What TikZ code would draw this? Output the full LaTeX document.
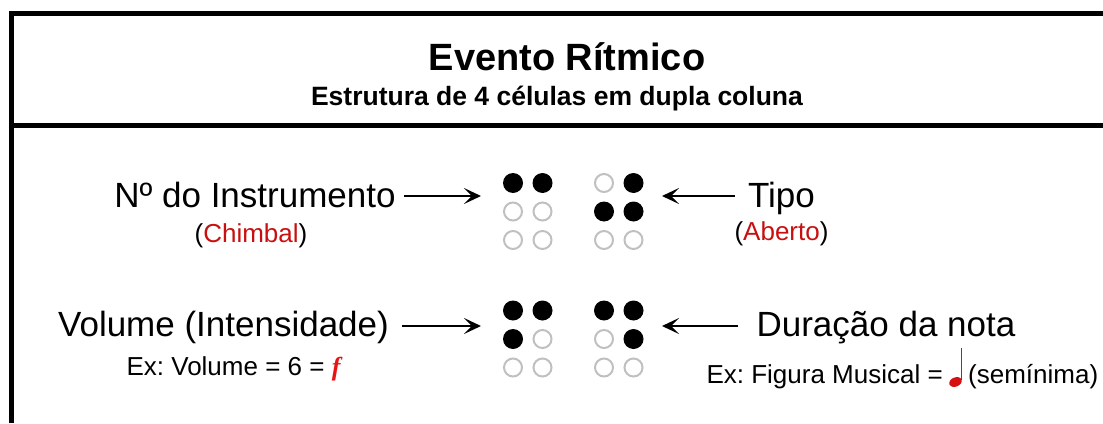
\documentclass[tikz,border=0pt]{standalone}
\usepackage{fontspec}
\setmainfont{Liberation Sans}
\newfontfamily\dynfont{Liberation Serif}
\usetikzlibrary{arrows.meta}
\frenchspacing
\definecolor{labelred}{RGB}{200,16,16}
\definecolor{fortered}{RGB}{232,20,20}
\definecolor{notered}{RGB}{214,16,16}
\definecolor{dotgray}{RGB}{192,192,192}
\tikzstyle{frame} = [line width=5pt, line join=miter]
\tikzstyle{titletext} = [inner sep=0pt, font=\bfseries\fontsize{38}{44}\selectfont]
\tikzstyle{subtext} = [inner sep=0pt, font=\bfseries\fontsize{26.5}{32}\selectfont]
\tikzstyle{bigtext} = [inner sep=0pt, font=\fontsize{35}{42}\selectfont]
\tikzstyle{smalltext} = [inner sep=0pt, font=\fontsize{26}{31}\selectfont]
\tikzstyle{dot1} = [circle, fill=black, minimum size=20pt, inner sep=0pt]
\tikzstyle{dot0} = [circle, draw=dotgray, line width=2pt, minimum size=18pt, inner sep=0pt]
\tikzstyle{pointer} = [line width=2.2pt, -{Stealth[length=17pt, width=16pt, inset=8pt]}]
% one braille cell, dots listed row by row (1 = raised)
\newcommand{\braillecell}[4]{%
  \foreach \b [count=\i from 0] in {#4} {
    \pgfmathtruncatemacro{\col}{mod(\i,2)}
    \pgfmathtruncatemacro{\row}{div(\i,2)}
    \node (c#1-\i)[dot\b] at (#2+29.5*\col, #3+28.5*\row) {};
  }}
\begin{document}
\begin{tikzpicture}[x=1pt, y=-1pt]
      \useasboundingbox (0,0) rectangle (1103,423);
      % frame
      \draw[frame] (11,423) -- (11,13.5) -- (1103,13.5);
      \draw[frame] (11,125.5) -- (1103,125.5);
      % header
      \node (title)[titletext, anchor=base] at (567,70) {Evento Rítmico};
      \node (subtitle)[subtext, anchor=base] at (557,105) {Estrutura de 4 células em dupla coluna};
      % labels
      \node (instr)[bigtext, anchor=base] at (255,207) {Nº do Instrumento};
      \node (chimbal)[smalltext, anchor=base] at (251,242) {(\textcolor{labelred}{Chimbal})};
      \node (tipo)[bigtext, anchor=base] at (781.5,207) {Tipo};
      \node (aberto)[smalltext, anchor=base] at (781.5,240) {(\textcolor{labelred}{Aberto})};
      \node (volume)[bigtext, anchor=base] at (223.5,336) {Volume (Intensidade)};
      \node (volex)[smalltext, anchor=base] at (233.5,375) {Ex: Volume = 6 = {\dynfont\bfseries\itshape\color{fortered}f}};
      \node (duracao)[bigtext, anchor=base] at (886,336) {Duração da nota};
      \node (figex)[smalltext, anchor=base east] at (943,383) {Ex: Figura Musical =};
      \node (seminima)[smalltext, anchor=base west] at (968,383) {(semínima)};
      % quarter note
      \fill[notered, rotate around={22:(955.5,382)}] (955.5,382) ellipse [x radius=6.5, y radius=4.6];
      \draw[notered, line width=1.4pt] (961.3,380) -- (961.3,348);
      % braille cells
      \braillecell{1}{513}{183}{1,1,0,0,0,0}
      \braillecell{2}{604}{183}{0,1,1,1,0,0}
      \braillecell{3}{513}{310.5}{1,1,1,0,0,0}
      \braillecell{4}{604}{310.5}{1,1,0,1,0,0}
      % arrows
      \coordinate (instrtip) at (481,196);
      \coordinate (tipotip) at (662,196);
      \coordinate (voltip) at (481,326);
      \coordinate (durtip) at (662,326);
      \draw[pointer, shorten <=8pt] (instr.east |- instrtip) -- (instrtip);
      \draw[pointer, shorten <=13pt] (tipo.west |- tipotip) -- (tipotip);
      \draw[pointer, shorten <=13pt] (volume.east |- voltip) -- (voltip);
      \draw[pointer, shorten <=18pt] (duracao.west |- durtip) -- (durtip);
    \end{tikzpicture}
\end{document}
